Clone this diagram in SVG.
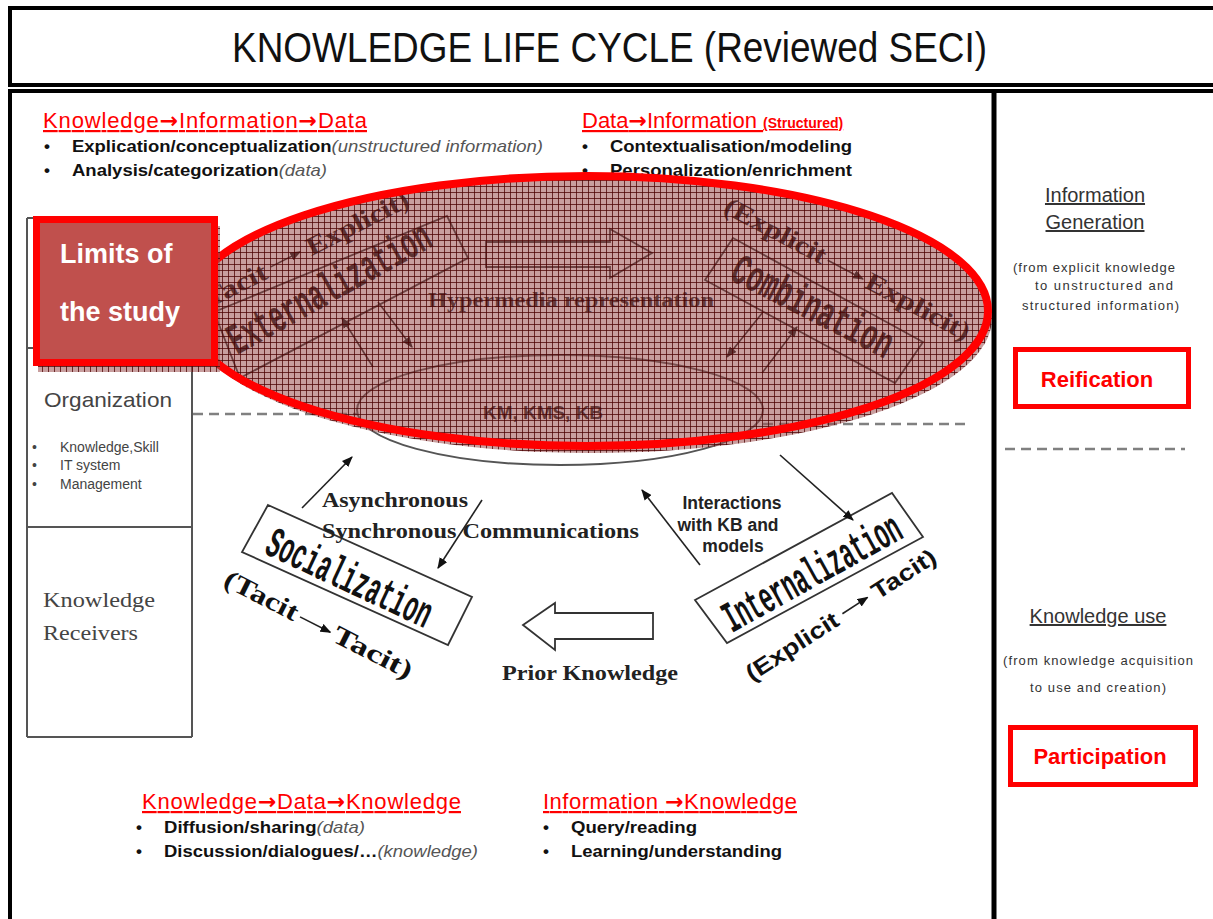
<svg xmlns="http://www.w3.org/2000/svg" width="1213" height="919" viewBox="0 0 1213 919">
<style>
.sans{font-family:"Liberation Sans",Arial,sans-serif}
.serif{font-family:"Liberation Serif","Times New Roman",serif}
.mono{font-family:"Liberation Mono","Courier New",monospace}
.hdr{font-family:"Liberation Sans",Arial,sans-serif;font-size:22px;fill:#ff0000;text-decoration:underline}
.arr{font-family:"DejaVu Sans",sans-serif;font-weight:bold}
.bul{font-family:"Liberation Sans",Arial,sans-serif;font-size:17px;font-weight:bold;fill:#111}
.it{font-weight:normal;font-style:italic;fill:#555}
.seci{font-family:"Liberation Mono","Courier New",monospace;font-size:44px;font-weight:bold;fill:#111}
.lbl{font-family:"Liberation Serif","Times New Roman",serif;font-size:26px;font-weight:bold;fill:#111}
.lbls{font-family:"Liberation Sans",Arial,sans-serif;font-size:23px;font-weight:bold;fill:#111}
.bt{font-family:"Liberation Serif","Times New Roman",serif;font-size:20px;font-weight:bold;fill:#222}
.banner{fill:#fff;stroke:#333;stroke-width:1.8}
.con{stroke:#222;stroke-width:1.6;fill:none;marker-end:url(#ah)}
.dash{stroke:#808080;stroke-width:2.5;stroke-dasharray:10 6;fill:none}
.col{stroke:#555;stroke-width:2;fill:none}
.rp{font-family:"Liberation Sans",Arial,sans-serif;fill:#333}
.redbox{fill:#fff;stroke:#ff0000;stroke-width:5}
.redtxt{font-family:"Liberation Sans",Arial,sans-serif;font-size:22px;font-weight:bold;fill:#ff0000}
</style>
<defs>
<marker id="ah" viewBox="0 0 10 8" refX="9" refY="4" markerWidth="11" markerHeight="9" markerUnits="userSpaceOnUse" orient="auto"><path d="M0,0L10,4L0,8z" fill="#111"/></marker>
<pattern id="hatch" width="6" height="6" patternUnits="userSpaceOnUse">
<rect width="6" height="6" fill="#9b4f4f" fill-opacity="0.55"/>
<path d="M0,0.5H6M0.5,0V6" stroke="#4a0000" stroke-opacity="0.75" stroke-width="1"/>
</pattern>
<mask id="outMain"><rect width="1213" height="919" fill="#fff"/><ellipse cx="587" cy="311" rx="401" ry="135" fill="#000"/></mask>
</defs>
<rect width="1213" height="919" fill="#fff"/>

<g id="frame">
<rect x="10" y="8" width="1215" height="77" fill="#fff" stroke="#000" stroke-width="4"/>
<rect x="10" y="91" width="1215" height="840" fill="#fff" stroke="#000" stroke-width="4"/>
<line x1="994" y1="91" x2="994" y2="919" stroke="#000" stroke-width="5"/>
</g>

<g id="title">
<text class="sans" x="232" y="62" font-size="42" textLength="755" lengthAdjust="spacingAndGlyphs" fill="#111">KNOWLEDGE LIFE CYCLE (Reviewed SECI)</text>
</g>

<g id="top-left-text">
<text class="hdr" x="43" y="128" textLength="324">Knowledge<tspan class="arr">→</tspan>Information<tspan class="arr">→</tspan>Data</text>
<text class="bul" x="44" y="152">•</text>
<text class="bul" x="72" y="152" textLength="471" lengthAdjust="spacingAndGlyphs">Explication/conceptualization<tspan class="it">(unstructured information)</tspan></text>
<text class="bul" x="44" y="176">•</text>
<text class="bul" x="72" y="176" textLength="255" lengthAdjust="spacingAndGlyphs">Analysis/categorization<tspan class="it">(data)</tspan></text>
</g>

<g id="top-mid-text">
<text class="hdr" x="582" y="128">Data<tspan class="arr">→</tspan>Information <tspan font-size="14" font-weight="bold">(Structured)</tspan></text>
<text class="bul" x="582" y="152">•</text>
<text class="bul" x="610" y="152" textLength="242" lengthAdjust="spacingAndGlyphs">Contextualisation/modeling</text>
<text class="bul" x="582" y="176">•</text>
<text class="bul" x="610" y="176" textLength="242" lengthAdjust="spacingAndGlyphs">Personalization/enrichment</text>
</g>

<g id="left-column">
<path class="col" d="M27,218V737M192,218V737M27,218H192M27,348H192M27,527H192M27,737H192"/>
<text class="sans" x="44" y="407" font-size="21" textLength="128" lengthAdjust="spacingAndGlyphs" fill="#444">Organization</text>
<g class="sans" font-size="14" fill="#444">
<text x="32" y="452">•</text><text x="60" y="452">Knowledge,Skill</text>
<text x="32" y="470">•</text><text x="60" y="470">IT system</text>
<text x="32" y="489">•</text><text x="60" y="489">Management</text>
</g>
<text class="serif" x="43" y="607" font-size="21" textLength="112" lengthAdjust="spacingAndGlyphs" fill="#444">Knowledge</text>
<text class="serif" x="43" y="640" font-size="21" textLength="95" lengthAdjust="spacingAndGlyphs" fill="#444">Receivers</text>
</g>

<g id="dashed-lines">
<line class="dash" x1="193" y1="414" x2="357" y2="414"/>
<line class="dash" x1="763" y1="424" x2="965" y2="424"/>
<line class="dash" x1="1005" y1="449" x2="1185" y2="449"/>
</g>

<g id="externalization">
<path class="banner" d="M214,312L447,216L468,258L240,378Z"/>
<text class="seci" transform="translate(237,355) rotate(-29)" textLength="226" lengthAdjust="spacingAndGlyphs">Externalization</text>
<g transform="translate(200,313) rotate(-27)">
<text class="lbl" x="0" y="0" textLength="78" lengthAdjust="spacingAndGlyphs">(Tacit</text>
<line class="con" x1="84" y1="-9" x2="117" y2="-9"/>
<text class="lbl" x="125" y="0" textLength="112" lengthAdjust="spacingAndGlyphs">Explicit)</text>
</g>
</g>

<g id="combination">
<path class="banner" d="M733,238L923,342L895,383L705,280Z"/>
<text class="seci" transform="translate(728,279) rotate(27)" textLength="176" lengthAdjust="spacingAndGlyphs">Combination</text>
<g transform="translate(722,212) rotate(28)">
<text class="lbl" x="0" y="0" textLength="112" lengthAdjust="spacingAndGlyphs">(Explicit</text>
<line class="con" x1="116" y1="-7" x2="156" y2="-7"/>
<text class="lbl" x="160" y="0" textLength="115" lengthAdjust="spacingAndGlyphs">Explicit)</text>
</g>
</g>

<g id="hypermedia">
<text class="bt" x="428" y="307" font-size="21" textLength="286" lengthAdjust="spacingAndGlyphs">Hypermedia representation</text>
</g>

<g id="km-oval">
<ellipse cx="560" cy="410" rx="203" ry="55" fill="none" stroke="#555" stroke-width="2"/>
<text class="sans" x="483" y="419" font-size="18" font-weight="bold" textLength="120" lengthAdjust="spacingAndGlyphs" fill="#222">KM, KMS, KB</text>
</g>

<g id="socialization">
<path class="banner" d="M268,505L472,597L448,645L242,552Z"/>
<text class="seci" transform="translate(263,553) rotate(25)" textLength="178" lengthAdjust="spacingAndGlyphs">Socialization</text>
<g transform="translate(222,585) rotate(27)">
<text class="lbl" x="0" y="0" textLength="80" lengthAdjust="spacingAndGlyphs">(Tacit</text>
<line class="con" x1="84" y1="-7" x2="118" y2="-7"/>
<text class="lbl" x="122" y="0" textLength="86" lengthAdjust="spacingAndGlyphs">Tacit)</text>
</g>
</g>

<g id="internalization">
<path class="banner" d="M695,600L892,493L923,537L727,643Z"/>
<text class="seci" transform="translate(732,633) rotate(-29)" textLength="198" lengthAdjust="spacingAndGlyphs">Internalization</text>
<g transform="translate(752,682) rotate(-33)">
<text class="lbls" x="0" y="0" textLength="106" lengthAdjust="spacingAndGlyphs">(Explicit</text>
<line class="con" x1="113" y1="-8" x2="143" y2="-8"/>
<text class="lbls" x="150" y="0" textLength="72" lengthAdjust="spacingAndGlyphs">Tacit)</text>
</g>
</g>

<g id="communication-labels">
<text class="bt" x="322" y="507" textLength="146" lengthAdjust="spacingAndGlyphs">Asynchronous</text>
<text class="bt" x="322" y="538" textLength="317" lengthAdjust="spacingAndGlyphs">Synchronous Communications</text>
<text class="bt" x="502" y="680" textLength="176" lengthAdjust="spacingAndGlyphs">Prior Knowledge</text>
<g class="sans" font-size="17.5" font-weight="bold" fill="#222" text-anchor="middle">
<text x="732" y="509">Interactions</text>
<text x="728" y="531">with KB and</text>
<text x="733" y="552">models</text>
</g>
</g>

<g id="connectors">
<path d="M486,242H610V229L652,253L610,278V267H486Z" fill="none" stroke="#333" stroke-width="1.8"/>
<path d="M523,625L555,603V613H653V639H555V650Z" fill="#fff" stroke="#333" stroke-width="1.8"/>
<line class="con" x1="373" y1="367" x2="342" y2="318"/>
<line class="con" x1="378" y1="302" x2="412" y2="347"/>
<line class="con" x1="763" y1="312" x2="727" y2="357"/>
<line class="con" x1="762" y1="373" x2="797" y2="327"/>
<line class="con" x1="302" y1="508" x2="352" y2="457"/>
<line class="con" x1="482" y1="500" x2="438" y2="568"/>
<line class="con" x1="700" y1="565" x2="642" y2="490"/>
<line class="con" x1="780" y1="455" x2="853" y2="520"/>
</g>

<g id="limits-overlay">
<ellipse cx="591" cy="318" rx="401" ry="135" fill="url(#hatch)" mask="url(#outMain)"/>
<ellipse cx="587" cy="311" rx="401" ry="135" fill="url(#hatch)" stroke="#ff0000" stroke-width="8"/>
</g>

<g id="limits-box">
<rect x="38" y="226" width="182" height="146" fill="url(#hatch)"/>
<rect x="36.5" y="219.5" width="178" height="143" fill="#c0504d" stroke="#ff0000" stroke-width="7"/>
<text class="sans" x="60" y="263" font-size="27" font-weight="bold" fill="#fff">Limits of</text>
<text class="sans" x="60" y="321" font-size="27" font-weight="bold" fill="#fff">the study</text>
</g>

<g id="bottom-left-text">
<text class="hdr" x="142" y="809" textLength="319">Knowledge<tspan class="arr">→</tspan>Data<tspan class="arr">→</tspan>Knowledge</text>
<text class="bul" x="136" y="833">•</text>
<text class="bul" x="164" y="833" textLength="201" lengthAdjust="spacingAndGlyphs">Diffusion/sharing<tspan class="it">(data)</tspan></text>
<text class="bul" x="136" y="857">•</text>
<text class="bul" x="164" y="857" textLength="314" lengthAdjust="spacingAndGlyphs">Discussion/dialogues/…<tspan class="it">(knowledge)</tspan></text>
</g>

<g id="bottom-mid-text">
<text class="hdr" x="543" y="809" textLength="254">Information <tspan class="arr">→</tspan>Knowledge</text>
<text class="bul" x="543" y="833">•</text>
<text class="bul" x="571" y="833" textLength="126" lengthAdjust="spacingAndGlyphs">Query/reading</text>
<text class="bul" x="543" y="857">•</text>
<text class="bul" x="571" y="857" textLength="211" lengthAdjust="spacingAndGlyphs">Learning/understanding</text>
</g>

<g id="info-generation">
<text class="rp" x="1095" y="202" font-size="20" text-anchor="middle" text-decoration="underline">Information</text>
<text class="rp" x="1095" y="229" font-size="20" text-anchor="middle" text-decoration="underline">Generation</text>
<text class="rp" x="1013" y="272" font-size="13" textLength="162">(from explicit knowledge</text>
<text class="rp" x="1035" y="290" font-size="13" textLength="138">to unstructured and</text>
<text class="rp" x="1022" y="310" font-size="13" textLength="157">structured information)</text>
</g>

<g id="reification">
<rect class="redbox" x="1015.5" y="349.5" width="173" height="57"/>
<text class="redtxt" x="1097" y="387" text-anchor="middle">Reification</text>
</g>

<g id="knowledge-use">
<text class="rp" x="1098" y="623" font-size="20" text-anchor="middle" text-decoration="underline">Knowledge use</text>
<text class="rp" x="1003" y="665" font-size="13" textLength="190">(from knowledge acquisition</text>
<text class="rp" x="1030" y="692" font-size="13" textLength="136">to use and creation)</text>
</g>

<g id="participation">
<rect class="redbox" x="1010.5" y="727.5" width="185" height="57"/>
<text class="redtxt" x="1100" y="764" text-anchor="middle">Participation</text>
</g>
</svg>
